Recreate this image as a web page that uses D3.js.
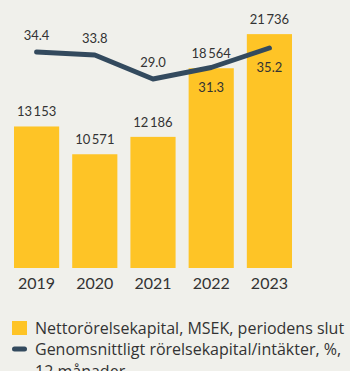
<!DOCTYPE html>
<html>
<head>
<meta charset="utf-8">
<script src="https://cdn.jsdelivr.net/npm/d3@7/dist/d3.min.js"></script>
<style>
  html, body { margin: 0; padding: 0; background: #f0f0eb; }
  svg { display: block; }
  text { font-family: Lato, "Open Sans", sans-serif; fill: #333; }
  .legend text { font-family: "Open Sans", sans-serif; font-size: 16px; }
</style>
</head>
<body>
<svg id="chart" width="350" height="371"></svg>
<script>
// Net working capital and average working capital ratio, 2019–2023
const years = ["2019", "2020", "2021", "2022", "2023"];
const workingCapital = [13153, 10571, 12186, 18564, 21736];     // MSEK, end of period
const capitalRatio = [34.4, 33.8, 29.0, 31.3, 35.2];            // %, rolling 12 months
const legendLabels = [
  "Nettorörelsekapital, MSEK, periodens slut",
  ["Genomsnittligt rörelsekapital/intäkter, %,", "12 månader"]
];

const BAR = "#fec426";
const LINE = "#334a5e";

const svg = d3.select("#chart");

const x = d3.scaleBand().domain(years).range([14, 292]).paddingInner(0.224).paddingOuter(0);
const yBar = d3.scaleLinear().domain([0, 25000]).range([268, -1]);
const yLine = d3.scaleLinear().domain([0, 40]).range([224, 24]);

const fmt = v => d3.format(",")(v).replace(/,/g, "\u2009");

// bars
svg.append("g").selectAll("rect")
  .data(workingCapital)
  .join("rect")
  .attr("x", (d, i) => x(years[i]))
  .attr("y", d => yBar(d))
  .attr("width", x.bandwidth())
  .attr("height", d => yBar(0) - yBar(d))
  .attr("fill", BAR);

// bar value labels
svg.append("g").selectAll("text")
  .data(workingCapital)
  .join("text")
  .attr("x", (d, i) => x(years[i]) + x.bandwidth() / 2)
  .attr("y", d => yBar(d) - 10)
  .attr("text-anchor", "middle")
  .style("font-size", "13px")
  .text(d => fmt(d));

// year axis
const xAxis = d3.axisBottom(x).tickSize(0).tickPadding(0);
const ax = svg.append("g").attr("transform", "translate(0,277.5)").call(xAxis);
ax.select(".domain").remove();
ax.selectAll("text")
  .attr("dy", "0.71em")
  .style("font-size", "16px")
  .style("font-family", "Lato, 'Open Sans', sans-serif")
  .attr("fill", "#333");

// ratio line
const cx = i => x(years[i]) + x.bandwidth() / 2;
const line = d3.line().x((d, i) => cx(i)).y(d => yLine(d));
svg.append("path")
  .datum(capitalRatio)
  .attr("d", line)
  .attr("fill", "none")
  .attr("stroke", LINE)
  .attr("stroke-width", 5)
  .attr("stroke-linejoin", "round")
  .attr("stroke-linecap", "round");

// ratio labels: above the line, or below it where the bar reaches the line
svg.append("g").selectAll("text")
  .data(capitalRatio)
  .join("text")
  .attr("x", (d, i) => cx(i))
  .attr("y", (d, i) => {
    const ly = yLine(d);
    return (yBar(workingCapital[i]) - 20 < ly) ? ly + 24 : ly - 12;
  })
  .attr("text-anchor", "middle")
  .style("font-size", "13px")
  .text(d => d.toFixed(1));

// legend
const lg = svg.append("g").attr("class", "legend");
lg.append("rect").attr("x", 12).attr("y", 321).attr("width", 15).attr("height", 14).attr("fill", BAR);
lg.append("text").attr("x", 35).attr("y", 333.5).text(legendLabels[0]);
lg.append("line").attr("x1", 14.5).attr("x2", 24.5).attr("y1", 349).attr("y2", 349)
  .attr("stroke", LINE).attr("stroke-width", 5).attr("stroke-linecap", "round");
lg.append("text").attr("x", 35).attr("y", 355)
  .selectAll("tspan").data(legendLabels[1]).join("tspan")
  .attr("x", 35).attr("dy", (d, i) => i ? 21.5 : 0).text(d => d);
</script>
</body>
</html>
